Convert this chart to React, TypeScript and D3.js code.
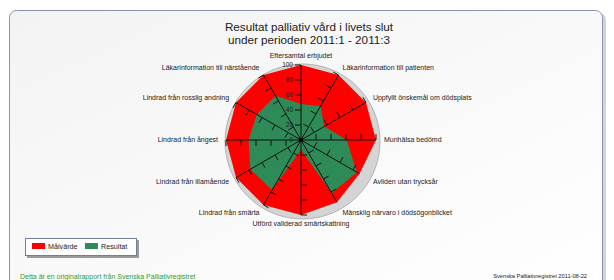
import React from "react";
import * as d3 from "d3";

// Kategorier medurs från toppen
const categories = [
  "Eftersamtal erbjudet",
  "Läkarinformation till patienten",
  "Uppfyllt önskemål om dödsplats",
  "Munhälsa bedömd",
  "Avliden utan trycksår",
  "Mänsklig närvaro i dödsögonblicket",
  "Utförd validerad smärtskattning",
  "Lindrad från smärta",
  "Lindrad från illamående",
  "Lindrad från ångest",
  "Lindrad från rosslig andning",
  "Läkarinformation till närstående",
];
const targetValues = [100, 100, 100, 100, 90, 96, 100, 100, 100, 100, 100, 100];
const resultValues = [48, 52, 36, 61, 86, 82, 13, 77, 78, 70, 68, 68];
const radialTicks = [0, 20, 40, 60, 80, 100];
const titleLines = ["Resultat palliativ vård i livets slut", "under perioden 2011:1 - 2011:3"];
const legendItems = [
  { name: "Målvärde", color: "#ff0000" },
  { name: "Resultat", color: "#2e8b57" },
];
const footerLeft = "Detta är en originalrapport från Svenska Palliativregistret";
const footerRight = "Svenska Palliativregistret 2011-08-22";

const W = 614;
const H = 280;
const cx = 301;
const cy = 140;
const R = 75;
const font = "'Liberation Sans', Arial, sans-serif";

export default function App() {
  const r = d3.scaleLinear().domain([0, 100]).range([0, R]);
  const angle = d3
    .scaleLinear()
    .domain([0, categories.length])
    .range([0, 2 * Math.PI]);

  const radar = d3
    .lineRadial<number>()
    .angle((_, i) => angle(i))
    .radius((d) => r(d))
    .curve(d3.curveLinearClosed);

  const pt = (i: number, v: number) => {
    const a = angle(i);
    return [Math.sin(a) * r(v), -Math.cos(a) * r(v)];
  };

  return (
    <div style={{ position: "fixed", left: 0, top: 0 }}>
      <svg width={W} height={H} style={{ display: "block", background: "#fff" }}>
        <defs>
          <linearGradient id="bg" x1="0" y1="0" x2="1" y2="1">
            <stop offset="0%" stopColor="#f3f3f3" />
            <stop offset="100%" stopColor="#ffffff" />
          </linearGradient>
        </defs>

        {/* Ram */}
        <rect x={12} y={13} width={594} height={290} rx={7} fill="#b8b8b8" opacity={0.6} />
        <rect x={9.5} y={10.5} width={593} height={290} rx={7} fill="url(#bg)" stroke="#8795b3" strokeWidth={1} />

        {/* Titel */}
        {titleLines.map((t, i) => (
          <text key={i} x={309} y={31 + i * 13} textAnchor="middle" fontFamily={font} fontSize={11.7} fill="#222">
            {t}
          </text>
        ))}

        <g transform={`translate(${cx},${cy})`}>
          {/* Grå skugga bakom cirkeln */}
          <circle cx={1.5} cy={1.5} r={R + 2.5} fill="#d4d4d4" stroke="#b3b3b3" strokeWidth={1} />

          <path d={radar(targetValues) ?? ""} fill="#ff0000" />
          <path d={radar(resultValues) ?? ""} fill="#2e8b57" />

          {/* Axlar och streck */}
          {categories.map((c, i) => {
            const a = angle(i);
            const [ex, ey] = pt(i, targetValues[i]);
            const px = -Math.cos(a) * 6;
            const py = -Math.sin(a) * 6;
            return (
              <g key={c}>
                <line x1={0} y1={0} x2={ex} y2={ey} stroke="#111" strokeWidth={1} />
                {radialTicks
                  .filter((t) => t > 0 && t <= targetValues[i])
                  .map((t) => {
                    const [tx, ty] = pt(i, t);
                    return <line key={t} x1={tx} y1={ty} x2={tx + px} y2={ty + py} stroke="#111" strokeWidth={1} />;
                  })}
              </g>
            );
          })}
          <circle r={2} fill="#000" />

          {/* Skaletiketter */}
          {radialTicks.map((t) => (
            <text key={t} x={-8} y={-r(t)} dy="0.35em" textAnchor="end" fontFamily={font} fontSize={6.5} fill="#222">
              {t}
            </text>
          ))}

          {/* Kategorietiketter */}
          {categories.map((c, i) => {
            const a = angle(i);
            const lx = Math.sin(a) * 83;
            const ly = -Math.cos(a) * 84;
            const s = Math.sin(a);
            const anchor = Math.abs(s) < 0.01 ? "middle" : s > 0 ? "start" : "end";
            return (
              <text key={c} x={lx} y={ly} dy="0.35em" textAnchor={anchor} fontFamily={font} fontSize={7} fill="#222">
                {c}
              </text>
            );
          })}
        </g>

        {/* Legend */}
        <rect x={27} y={240} width={112} height={18} fill="#9a9a9a" />
        <rect x={25.5} y={238.5} width={111} height={17} fill="#fff" stroke="#6f7f9c" strokeWidth={1} />
        {legendItems.map((d, i) => (
          <g key={d.name} transform={`translate(${32 + i * 53},243)`}>
            <rect width={13} height={6} fill={d.color} />
            <text x={16} y={3} dy="0.35em" fontFamily={font} fontSize={7.2} fill="#222">
              {d.name}
            </text>
          </g>
        ))}

        {/* Sidfot */}
        <text x={20} y={277} dy="0.35em" fontFamily={font} fontSize={7} fill="#2e9e2e">
          {footerLeft}
        </text>
        <text x={587} y={276} dy="0.35em" textAnchor="end" fontFamily={font} fontSize={5.7} fill="#222">
          {footerRight}
        </text>
      </svg>
    </div>
  );
}
